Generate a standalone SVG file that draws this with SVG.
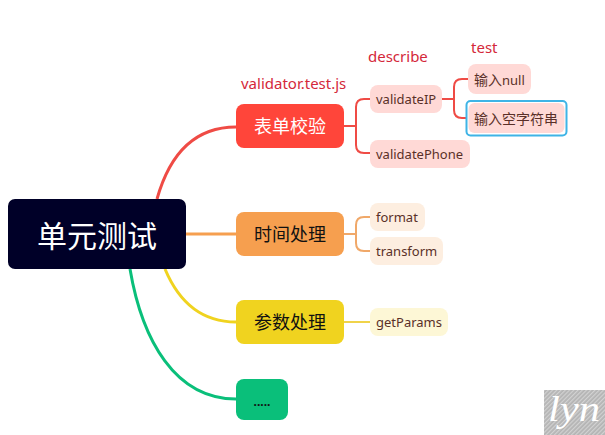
<svg xmlns="http://www.w3.org/2000/svg" width="605" height="435" viewBox="0 0 605 435">
<style>
text{font-family:"Noto Sans","Noto Sans CJK SC",sans-serif}
.c{fill:none;stroke-width:3}
.t{stroke-width:2}
.main{font-size:18px;fill:#111;text-anchor:middle;font-family:"Noto Sans CJK SC",sans-serif}
.leaf{font-size:13px;fill:#5a3028}
.cjk{font-size:14px;font-family:"Noto Sans CJK SC",sans-serif}
.note{font-size:15px;fill:#d4283a}
</style>
<defs>
<pattern id="h" width="3" height="3" patternUnits="userSpaceOnUse" patternTransform="rotate(45)">
<rect width="3" height="3" fill="#b4b4b4"/><rect width="1.2" height="3" fill="#d2d2d2"/>
</pattern>
</defs>
<rect width="605" height="435" fill="#fff"/>
<g id="connectors">
<path class="c" stroke="#ef4b45" d="M157 199C168 160 190 127 236 127"/>
<path class="c" stroke="#f69f4f" d="M186 234H236"/>
<path class="c" stroke="#f0d31f" d="M165 269C178 300 200 322 236 322"/>
<path class="c" stroke="#0abf7a" d="M130 269C142 340 175 399 236 399"/>
<path class="c t" stroke="#ef4b45" d="M344 126H356M370 99H364Q356 99 356 107V145Q356 153 364 153H370"/>
<path class="c t" stroke="#ef4b45" d="M442 99H454M468 79H462Q454 79 454 87V110Q454 118 462 118H468"/>
<path class="c t" stroke="#f0a869" d="M344 234H356M370 217H364Q356 217 356 225V243Q356 251 364 251H370"/>
<path class="c t" stroke="#f0d34a" d="M344 322H370"/>
</g>
<g id="root"><rect x="8" y="199" width="178" height="70" rx="7" fill="#000028"/><text x="97" y="247" font-size="30" fill="#fff" text-anchor="middle" style="font-family:'Noto Sans CJK SC',sans-serif">单元测试</text></g>
<g id="n-form"><rect x="236" y="104" width="108" height="44" rx="8" fill="#ff453a"/><text x="290" y="133" class="main" style="fill:#fff">表单校验</text></g>
<g id="n-time"><rect x="236" y="212" width="108" height="44" rx="8" fill="#f69f4f"/><text x="290" y="241" class="main">时间处理</text></g>
<g id="n-param"><rect x="236" y="300" width="108" height="44" rx="8" fill="#f0d31f"/><text x="290" y="329" class="main">参数处理</text></g>
<g id="n-more"><rect x="236" y="379" width="52" height="41" rx="8" fill="#0abf7a"/><text x="262" y="406" font-size="12" fill="#111" text-anchor="middle" font-weight="700">.....</text></g>
<g id="n-validateIP"><rect x="370" y="85" width="72" height="28" rx="8" fill="#ffd9d6"/><text x="376" y="104" class="leaf">validateIP</text></g>
<g id="n-validatePhone"><rect x="370" y="140" width="100" height="28" rx="8" fill="#ffd9d6"/><text x="376" y="159" class="leaf">validatePhone</text></g>
<g id="n-null"><rect x="468" y="64" width="63" height="30" rx="8" fill="#ffd9d6"/><text x="474" y="85" class="leaf"><tspan class="cjk">输入</tspan>null</text></g>
<g id="n-empty"><rect x="466.500" y="101" width="100" height="34.500" rx="4" fill="#fff" stroke="#3fb4e6" stroke-width="2"/><rect x="468.500" y="103" width="96" height="30" rx="6" fill="#ffd9d6"/><text x="474" y="124" class="leaf cjk">输入空字符串</text></g>
<g id="n-format"><rect x="370" y="203" width="55" height="28" rx="8" fill="#fdeee0"/><text x="376" y="222" class="leaf">format</text></g>
<g id="n-transform"><rect x="370" y="237" width="73" height="28" rx="8" fill="#fdeee0"/><text x="376" y="256" class="leaf">transform</text></g>
<g id="n-getParams"><rect x="370" y="308" width="78" height="28" rx="8" fill="#fdf7d6"/><text x="376" y="327" class="leaf">getParams</text></g>
<text x="241" y="89" class="note">validator.test.js</text>
<text x="368" y="62" class="note">describe</text>
<text x="471" y="53" class="note">test</text>
<g id="watermark"><rect x="544" y="390" width="61" height="45" fill="url(#h)"/><text x="548" y="421" font-size="36" fill="#fff" font-style="italic" textLength="52" lengthAdjust="spacingAndGlyphs" style="font-family:'Liberation Serif',serif">lyn</text></g>
</svg>
